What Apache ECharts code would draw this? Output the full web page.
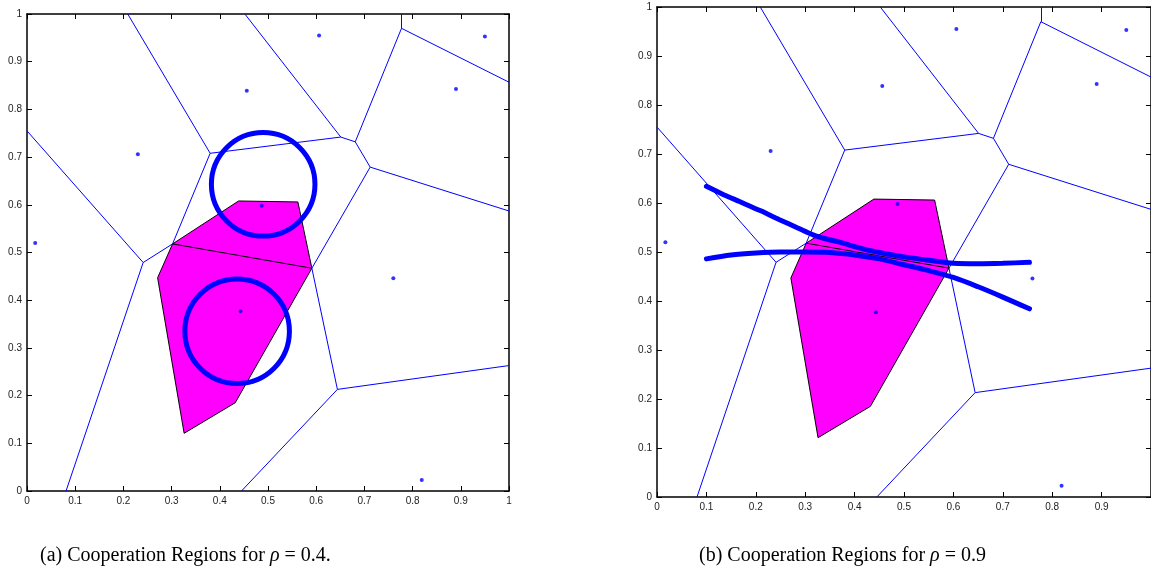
<!DOCTYPE html>
<html>
<head>
<meta charset="utf-8">
<script src="https://cdn.jsdelivr.net/npm/echarts@6/dist/echarts.min.js"></script>
<style>
  html, body { margin: 0; padding: 0; background: #fff; }
  #chart { width: 1151px; height: 587px; }
</style>
</head>
<body>
<div id="chart"></div>
<script>
// Voronoi sites (same in both panels)
const sites = [
  [0.017, 0.520], [0.230, 0.706], [0.456, 0.839], [0.606, 0.955], [0.950, 0.953],
  [0.890, 0.843], [0.487, 0.598], [0.760, 0.446], [0.443, 0.377], [0.819, 0.023]
];

// Voronoi vertices
const V1 = [0.302, 0.518], V2 = [0.241, 0.479], V3 = [0.380, 0.708];
const V4 = [0.651, 0.742], V5 = [0.681, 0.732], V6 = [0.712, 0.679];
const V7 = [0.591, 0.467], V8 = [0.644, 0.213], V9 = [0.777, 0.970];

// Voronoi edges (blue)
const voronoiEdges = [
  [[0, 0.755], V2], [V2, [0.081, 0]], [V2, V1], [V1, V3], [V3, [0.209, 1]],
  [V3, V4], [V4, [0.452, 1]], [V4, V5], [V5, V9], [V9, [0.777, 1]],
  [V9, [1, 0.857]], [V5, V6], [V6, [1, 0.587]], [V6, V7], [V7, V8],
  [V8, [1, 0.263]], [V8, [0.445, 0]]
];

// edge between the two cooperating cells (black)
const dividerEdge = [V1, V7];

// cooperation region (magenta)
const regionPolygon = [
  V1, [0.439, 0.608], [0.562, 0.606], V7, [0.432, 0.185], [0.326, 0.121], [0.271, 0.447]
];

// panel (a): circles [cx, cy, r]
const circlesA = [
  [0.490, 0.643, 0.108],
  [0.436, 0.335, 0.109]
];

// panel (b): two boundary curves
const curveUpper = [
  [0.100, 0.634], [0.135, 0.617], [0.167, 0.603], [0.210, 0.584], [0.248, 0.566],
  [0.285, 0.549], [0.316, 0.535], [0.345, 0.526], [0.370, 0.520], [0.400, 0.511],
  [0.430, 0.503], [0.460, 0.497], [0.500, 0.490], [0.550, 0.483], [0.600, 0.477],
  [0.650, 0.476], [0.700, 0.477], [0.754, 0.479]
];
const curveLower = [
  [0.100, 0.486], [0.150, 0.494], [0.200, 0.498], [0.250, 0.500], [0.300, 0.500],
  [0.350, 0.499], [0.400, 0.494], [0.450, 0.486], [0.500, 0.474], [0.550, 0.462],
  [0.600, 0.448], [0.650, 0.429], [0.700, 0.408], [0.754, 0.384]
];

const ticks = [0, 0.1, 0.2, 0.3, 0.4, 0.5, 0.6, 0.7, 0.8, 0.9, 1];

const captions = [
  { left: 40, text: '(a) Cooperation Regions for {i|ρ} = 0.4.' },
  { left: 699, text: '(b) Cooperation Regions for {i|ρ} = 0.9' }
];

const BLUE = '#0000ff';
const labelFont = { fontFamily: 'Liberation Sans', fontSize: 10, color: '#222' };

function makeAxes(gridIndex, isX, hideMax) {
  const base = {
    gridIndex,
    type: 'value',
    min: 0,
    max: 1,
    interval: 0.1,
    splitLine: { show: false },
    axisLine: { onZero: false, lineStyle: { color: '#000', width: 1.5 } },
    axisTick: { inside: true, length: 5, lineStyle: { color: '#000', width: 1 } }
  };
  return [
    Object.assign({}, base, {
      position: isX ? 'bottom' : 'left',
      axisLabel: Object.assign({ margin: 5, showMaxLabel: !hideMax,
        formatter: v => String(ticks[Math.round(v * 10)]) }, labelFont)
    }),
    Object.assign({}, base, {
      position: isX ? 'top' : 'right',
      axisLabel: { show: false }
    })
  ];
}

const grids = [
  { left: 27, top: 14, width: 482, height: 477 },
  { left: 657, top: 7, width: 494, height: 490 }
];

const xAxis = [...makeAxes(0, true, false), ...makeAxes(1, true, true)];
const yAxis = [...makeAxes(0, false, false), ...makeAxes(1, false, false)];

function panelSeries(g) {
  const ax = { xAxisIndex: g * 2, yAxisIndex: g * 2 };
  return [
    Object.assign({
      type: 'custom',
      data: [[0, 0]],
      silent: true,
      renderItem: (params, api) => ({
        type: 'polygon',
        shape: { points: regionPolygon.map(p => api.coord(p)) },
        style: { fill: '#ff00ff', stroke: '#000', lineWidth: 1 }
      })
    }, ax),
    Object.assign({
      type: 'lines',
      coordinateSystem: 'cartesian2d',
      data: voronoiEdges.map(e => ({ coords: e })),
      lineStyle: { color: BLUE, width: 1, opacity: 1 },
      silent: true
    }, ax),
    Object.assign({
      type: 'lines',
      coordinateSystem: 'cartesian2d',
      data: [{ coords: dividerEdge }],
      lineStyle: { color: '#000', width: 1, opacity: 1 },
      silent: true
    }, ax),
    Object.assign({
      type: 'scatter',
      data: sites,
      symbolSize: 4,
      itemStyle: { color: BLUE },
      silent: true
    }, ax)
  ];
}

const series = [...panelSeries(0), ...panelSeries(1)];

series.push({
  type: 'custom',
  xAxisIndex: 0,
  yAxisIndex: 0,
  data: circlesA,
  silent: true,
  renderItem: (params, api) => {
    const c = api.coord([api.value(0), api.value(1)]);
    const s = api.size([api.value(2), api.value(2)]);
    return {
      type: 'circle',
      shape: { cx: c[0], cy: c[1], r: (s[0] + s[1]) / 2 },
      style: { fill: 'none', stroke: BLUE, lineWidth: 5 }
    };
  }
});

[curveUpper, curveLower].forEach(curve => {
  series.push({
    type: 'line',
    xAxisIndex: 2,
    yAxisIndex: 2,
    data: curve,
    smooth: 0.3,
    showSymbol: false,
    silent: true,
    lineStyle: { color: BLUE, width: 5, cap: 'round' }
  });
});

const chart = echarts.init(document.getElementById('chart'), null, { renderer: 'canvas' });
chart.setOption({
  animation: false,
  backgroundColor: '#fff',
  title: captions.map(c => ({
    text: c.text,
    left: c.left,
    top: 546,
    padding: 0,
    textStyle: {
      fontFamily: 'Liberation Serif',
      fontSize: 20,
      fontWeight: 'normal',
      color: '#000',
      rich: {
        i: { fontFamily: 'Liberation Serif', fontSize: 20, fontStyle: 'italic', color: '#000' }
      }
    }
  })),
  grid: grids,
  xAxis,
  yAxis,
  series
});
</script>
</body>
</html>
